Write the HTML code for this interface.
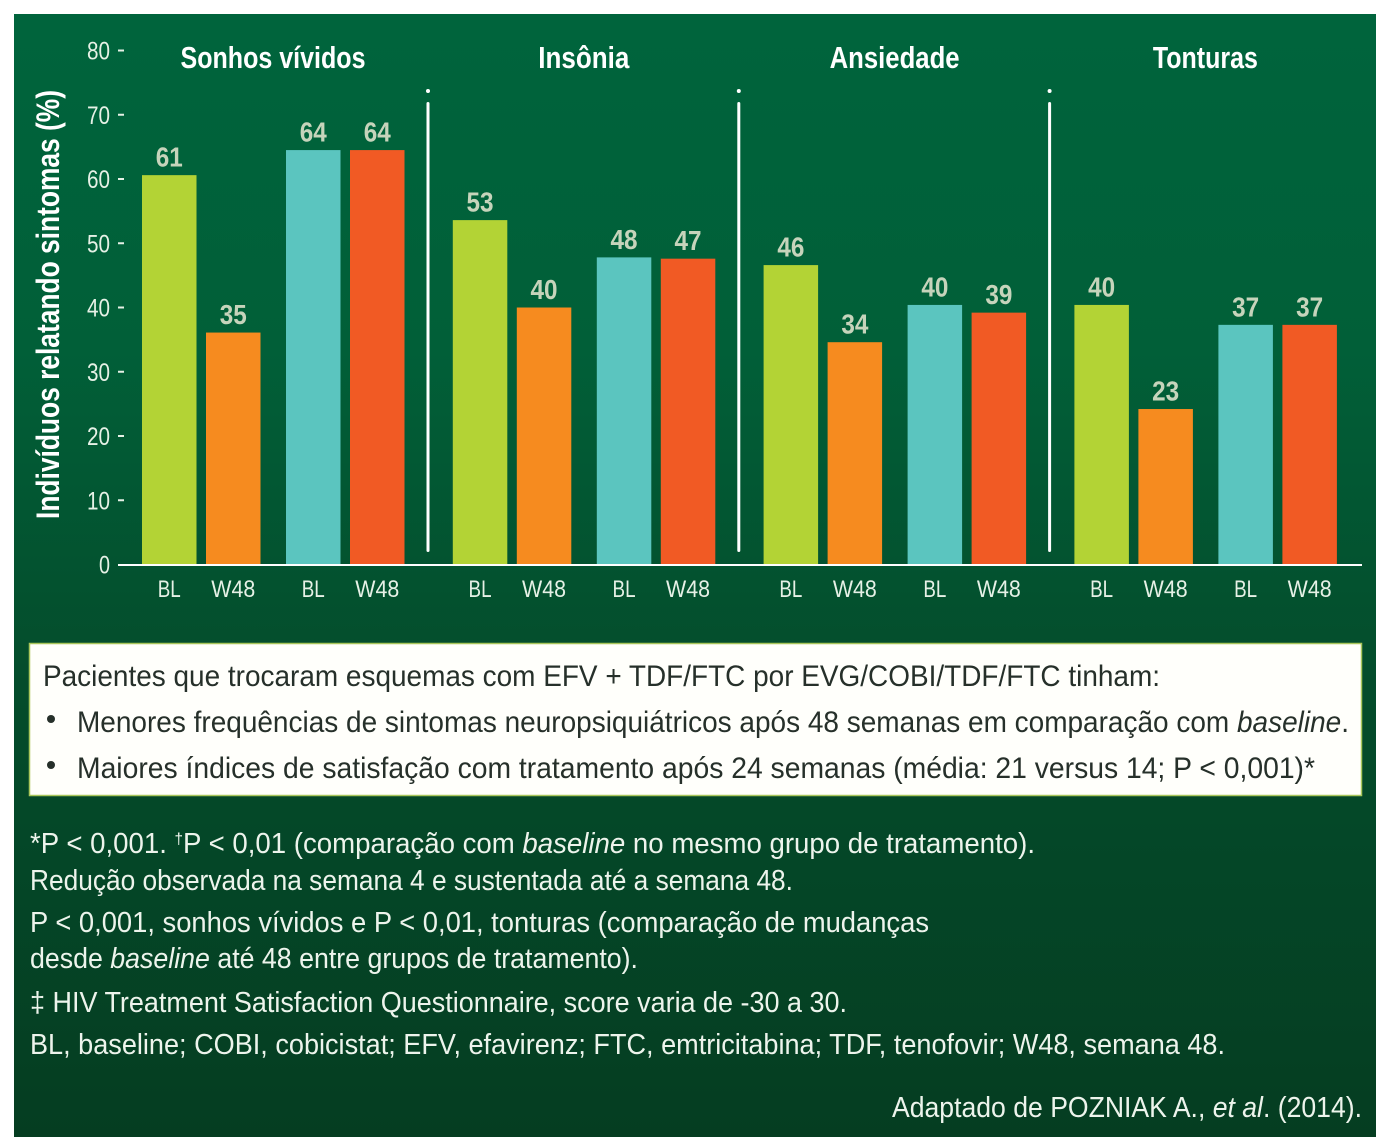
<!DOCTYPE html>
<html lang="pt">
<head>
<meta charset="utf-8">
<title>Sintomas neuropsiquiátricos</title>
<style>
html,body{margin:0;padding:0;background:#fff;}
svg{display:block;font-family:"Liberation Sans",sans-serif;}
.note{fill:#edf4ec;font-size:29px;}
.box{fill:#26302a;font-size:30px;}
.ttl{fill:#fff;font-size:32px;font-weight:bold;}
</style>
</head>
<body>
<svg id="chart" width="1387" height="1145" viewBox="0 0 1387 1145" xmlns="http://www.w3.org/2000/svg">
  <defs>
    <linearGradient id="bg" x1="0" y1="0" x2="0" y2="1">
      <stop offset="0" stop-color="#00643c"/>
      <stop offset="0.3" stop-color="#015f38"/>
      <stop offset="0.6" stop-color="#044c2b"/>
      <stop offset="1" stop-color="#053d21"/>
    </linearGradient>
  </defs>
  <rect width="1387" height="1145" fill="#fff"/>
  <rect x="14" y="14" width="1362" height="1123" fill="url(#bg)"/>

  <text class="ttl" transform="translate(59,519) rotate(-90)" textLength="429" lengthAdjust="spacingAndGlyphs">Indivíduos relatando sintomas (%)</text>

  <g id="plot"></g>

  <rect x="29.5" y="643.5" width="1332" height="152" fill="#fffffb" stroke="#a9c65a" stroke-width="1.5"/>
  <text class="box" x="43" y="686" textLength="1117" lengthAdjust="spacingAndGlyphs">Pacientes que trocaram esquemas com EFV + TDF/FTC por EVG/COBI/TDF/FTC tinham:</text>
  <circle cx="51" cy="719" r="4" fill="#26302a"/>
  <text class="box" x="77" y="732" textLength="1272" lengthAdjust="spacingAndGlyphs">Menores frequências de sintomas neuropsiquiátricos após 48 semanas em comparação com <tspan font-style="italic">baseline</tspan>.</text>
  <circle cx="51" cy="765" r="4" fill="#26302a"/>
  <text class="box" x="77" y="778" textLength="1238" lengthAdjust="spacingAndGlyphs">Maiores índices de satisfação com tratamento após 24 semanas (média: 21 versus 14; P &lt; 0,001)*</text>

  <text class="note" x="30" y="853" textLength="1005" lengthAdjust="spacingAndGlyphs">*P &lt; 0,001. <tspan font-size="16" dy="-9">†</tspan><tspan dy="9">P &lt; 0,01 (comparação com </tspan><tspan font-style="italic">baseline</tspan> no mesmo grupo de tratamento).</text>
  <text class="note" x="30" y="890" textLength="763" lengthAdjust="spacingAndGlyphs">Redução observada na semana 4 e sustentada até a semana 48.</text>
  <text class="note" x="30" y="932" textLength="899" lengthAdjust="spacingAndGlyphs">P &lt; 0,001, sonhos vívidos e P &lt; 0,01, tonturas (comparação de mudanças</text>
  <text class="note" x="30" y="968" textLength="608" lengthAdjust="spacingAndGlyphs">desde <tspan font-style="italic">baseline</tspan> até 48 entre grupos de tratamento).</text>
  <text class="note" x="30" y="1012" textLength="817" lengthAdjust="spacingAndGlyphs">‡ HIV Treatment Satisfaction Questionnaire, score varia de -30 a 30.</text>
  <text class="note" x="30" y="1054" textLength="1195" lengthAdjust="spacingAndGlyphs">BL, baseline; COBI, cobicistat; EFV, efavirenz; FTC, emtricitabina; TDF, tenofovir; W48, semana 48.</text>
  <text class="note" x="892" y="1117" textLength="470" lengthAdjust="spacingAndGlyphs">Adaptado de POZNIAK A., <tspan font-style="italic">et al</tspan>. (2014).</text>
</svg>
<script>
// Chart data
const panels = ["Sonhos vívidos", "Insônia", "Ansiedade", "Tonturas"];
const panelTitleWidths = [185, 91, 130, 105];
const barLabels = ["BL", "W48", "BL", "W48"];
const seriesColors = ["#b3d335", "#f68b1f", "#5bc5bf", "#f15a24"];
const yTicks = [0, 10, 20, 30, 40, 50, 60, 70, 80];
// Bar heights as drawn in the picture
const sonhosValues = [60.6, 36.1, 64.5, 64.5];
const insoniaValues = [53.6, 40.0, 47.8, 47.6];
const ansiedadeValues = [46.6, 34.6, 40.4, 39.2];
const tonturasValues = [40.4, 24.2, 37.3, 37.3];
// Values as printed above the bars
const sonhosPrinted = ["61", "35", "64", "64"];
const insoniaPrinted = ["53", "40", "48", "47"];
const ansiedadePrinted = ["46", "34", "40", "39"];
const tonturasPrinted = ["40", "23", "37", "37"];

const panelValues = [sonhosValues, insoniaValues, ansiedadeValues, tonturasValues];
const panelPrinted = [sonhosPrinted, insoniaPrinted, ansiedadePrinted, tonturasPrinted];

const NS = "http://www.w3.org/2000/svg";
const plot = document.getElementById("plot");

function yScale(v) { return 564.5 - v * 6.425; }
function panelLeft(p) { return 142 + p * 310.8; }
function barLeft(p, b) { return panelLeft(p) + [0, 64, 144, 208][b]; }
const barWidth = 54.5;

function make(tag, attrs, text) {
  const el = document.createElementNS(NS, tag);
  for (const k in attrs) el.setAttribute(k, attrs[k]);
  if (text !== undefined) el.textContent = text;
  plot.appendChild(el);
  return el;
}

yTicks.forEach(function (t) {
  const y = yScale(t);
  const label = make("text", {
    x: 110, y: y + 9, "text-anchor": "end", fill: "#e6f1e6", "font-size": 25,
    textLength: t === 0 ? 11 : 23, lengthAdjust: "spacingAndGlyphs"
  }, String(t));
  
  
  if (t !== 0) {
    const tick = make("line", { x1: 118, x2: 124, y1: y, y2: y, stroke: "#e6f1e6", "stroke-width": 2 });
    
    
  }
});

panels.forEach(function (name, p) {
  const center = panelLeft(p) + 131;
  const title = make("text", {
    x: center, y: 68, "text-anchor": "middle", fill: "#fff", "font-size": 31, "font-weight": "bold",
    textLength: panelTitleWidths[p], lengthAdjust: "spacingAndGlyphs"
  }, name);
  
  

  panelValues[p].forEach(function (v, b) {
    const x = barLeft(p, b);
    const top = yScale(v);
    const bar = make("rect", { x: x, y: top, width: barWidth, height: yScale(0) - top, fill: seriesColors[b] });
    
    

    const val = make("text", {
      x: x + barWidth / 2, y: top - 8.5, "text-anchor": "middle", fill: "#c6d4bb", "font-size": 28,
      "font-weight": "bold", textLength: 27, lengthAdjust: "spacingAndGlyphs"
    }, panelPrinted[p][b]);
    
    

    const cat = make("text", {
      x: x + barWidth / 2, y: 597, "text-anchor": "middle", fill: "#e6f1e6", "font-size": 24,
      textLength: b % 2 ? 44 : 23, lengthAdjust: "spacingAndGlyphs"
    }, barLabels[b]);
    
    
  });

  if (p < panels.length - 1) {
    const dx = panelLeft(p) + 286;
    const dot = make("circle", { cx: dx, cy: 91, r: 2, fill: "#fff" });
    
    
    const div = make("line", { x1: dx, x2: dx, y1: 103.5, y2: 550.5, stroke: "#fff", "stroke-width": 3, "stroke-linecap": "round" });
    
    
  }
});

const axis = make("line", { x1: 118, x2: 1362, y1: yScale(0) + 0.5, y2: yScale(0) + 0.5, stroke: "#fff", "stroke-width": 2 });


</script>
</body>
</html>
